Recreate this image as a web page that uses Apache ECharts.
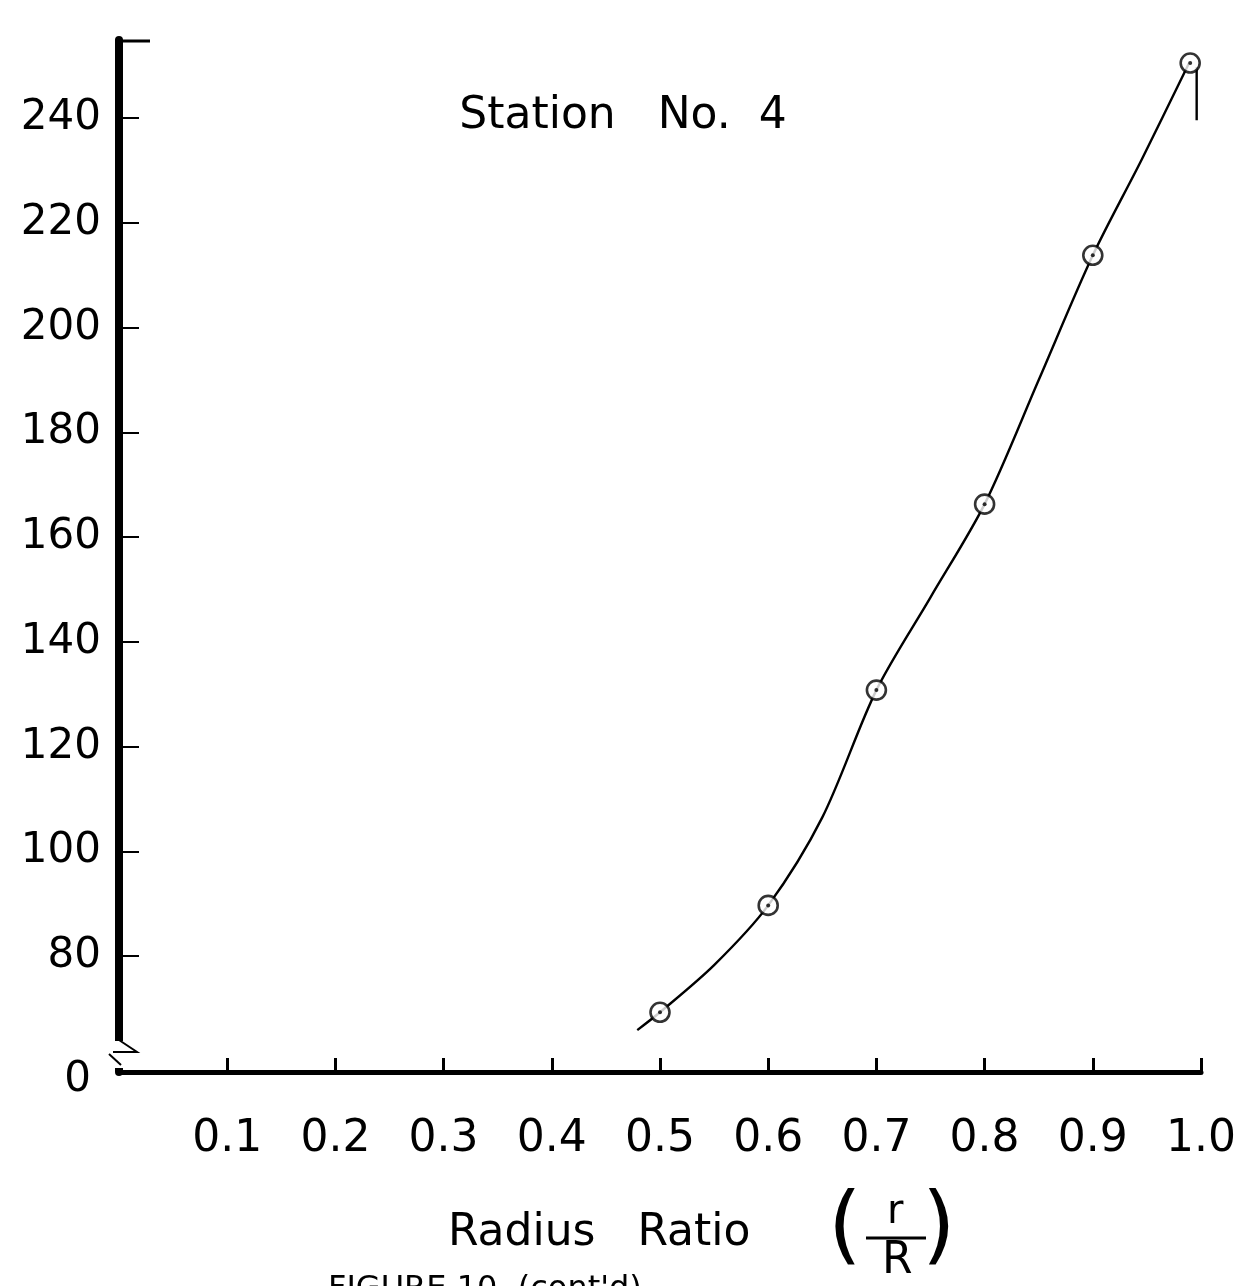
<!DOCTYPE html>
<html>
<head>
<meta charset="utf-8">
<script src="https://cdn.jsdelivr.net/npm/echarts@6/dist/echarts.min.js"></script>
<style>
  html, body { margin: 0; padding: 0; background: #fff; }
  #chart { width: 1246px; height: 1286px; }
</style>
</head>
<body>
<div id="chart"></div>
<script>
// measured points (circles)
const ratio = [0.5, 0.6, 0.7, 0.8, 0.9, 0.99]
const values = [69.3, 89.7, 130.8, 166.3, 213.8, 250.5]
// hand-drawn fitted curve
const curveX = [0.479, 0.5, 0.55, 0.6, 0.65, 0.7, 0.75, 0.8, 0.85, 0.9, 0.945, 0.989]
const curveY = [65.9, 69.3, 78.3, 89.7, 106.5, 130.8, 148.5, 166.3, 190, 213.8, 232, 250.5]
// short vertical stroke at the wall
const wallX = [0.996, 0.996]
const wallY = [249.7, 239.6]

const yTicks = [80, 100, 120, 140, 160, 180, 200, 220, 240]
const xTicks = [0.1, 0.2, 0.3, 0.4, 0.5, 0.6, 0.7, 0.8, 0.9, 1.0]
const yMin = 57.9   // broken axis: this level is labelled "0"
const yMax = 254.9

const FONT = 'DejaVu Sans'
const chart = echarts.init(document.getElementById('chart'), null, { renderer: 'canvas' })

const zip = (xs, ys) => xs.map((x, i) => [x, ys[i]])

chart.setOption({
  animation: false,
  backgroundColor: '#fff',
  title: {
    text: 'Station   No.  4', left: 'center', top: 90,
    textStyle: { fontFamily: FONT, fontSize: 44, fontWeight: 'normal', color: '#000' }
  },
  grid: { left: 119, right: 45, top: 40, bottom: 214, containLabel: false },
  xAxis: {
    type: 'value', min: 0, max: 1.0,
    axisLine: { show: true, lineStyle: { color: '#000', width: 5 } },
    axisTick: { show: true, inside: true, length: 14, customValues: xTicks, lineStyle: { color: '#000', width: 3 } },
    axisLabel: {
      show: true, customValues: xTicks, margin: 46,
      fontFamily: FONT, fontSize: 44, color: '#000',
      formatter: v => v.toFixed(1)
    },
    splitLine: { show: false }
  },
  yAxis: {
    type: 'value', min: yMin, max: yMax,
    axisLine: { show: true, lineStyle: { color: '#000', width: 8 } },
    axisTick: { show: true, inside: true, length: 20, customValues: yTicks, lineStyle: { color: '#000', width: 2 } },
    axisLabel: {
      show: true, customValues: [yMin].concat(yTicks), margin: 18,
      fontFamily: FONT, fontSize: 42, color: '#000',
      formatter: v => v < 70 ? '{z|0}' : String(v),
      rich: { z: { fontFamily: FONT, fontSize: 42, color: '#000', padding: [16, 10, 0, 0] } }
    },
    splitLine: { show: false }
  },
  series: [
    {
      name: 'curve', type: 'line', data: zip(curveX, curveY),
      smooth: 0.3, showSymbol: false, symbol: 'none',
      lineStyle: { color: '#000', width: 2.4 }, z: 2
    },
    {
      name: 'wall', type: 'line', data: zip(wallX, wallY),
      showSymbol: false, symbol: 'none',
      lineStyle: { color: '#000', width: 2.4 }, z: 2
    },
    {
      name: 'points', type: 'scatter', data: zip(ratio, values),
      symbol: 'circle', symbolSize: 19,
      itemStyle: { color: '#fff', borderColor: '#000', borderWidth: 2.6 }, z: 3
    },
    {
      name: 'dots', type: 'scatter', data: zip(ratio, values),
      symbol: 'circle', symbolSize: 4,
      itemStyle: { color: '#000' }, z: 4
    }
  ],
  graphic: [
    // top stub of the y axis
    { type: 'line', z: 100, shape: { x1: 115, y1: 41, x2: 150, y2: 41 }, style: { stroke: '#000', lineWidth: 3 } },
    // axis break
    { type: 'rect', z: 100, shape: { x: 108, y: 1041, width: 22, height: 27 }, style: { fill: '#fff' } },
    { type: 'polyline', z: 101, shape: { points: [[119, 1040], [137, 1052], [113, 1052]] }, style: { stroke: '#000', lineWidth: 2, fill: null } },
    { type: 'line', z: 101, shape: { x1: 109, y1: 1054, x2: 121, y2: 1065 }, style: { stroke: '#000', lineWidth: 2 } },
    // x axis title
    { type: 'text', z: 100, left: 448, top: 1212, style: { text: 'Radius   Ratio', font: '44px "DejaVu Sans"', fill: '#000' } },
    { type: 'text', z: 100, left: 828, top: 1188, style: { text: '(', font: '86px "DejaVu Sans"', fill: '#000' } },
    { type: 'text', z: 100, left: 922, top: 1188, style: { text: ')', font: '86px "DejaVu Sans"', fill: '#000' } },
    { type: 'text', z: 100, left: 887, top: 1193, style: { text: 'r', font: '40px "DejaVu Sans"', fill: '#000' } },
    { type: 'line', z: 100, shape: { x1: 866, y1: 1238, x2: 926, y2: 1238 }, style: { stroke: '#000', lineWidth: 3 } },
    { type: 'text', z: 100, left: 882, top: 1240, style: { text: 'R', font: '44px "DejaVu Sans"', fill: '#000' } },
    // caption, cut off at the bottom edge
    { type: 'text', z: 100, left: 328, top: 1274, style: { text: 'FIGURE 10  (cont\'d)', font: '32px "DejaVu Sans"', fill: '#000' } }
  ]
})
</script>
</body>
</html>
